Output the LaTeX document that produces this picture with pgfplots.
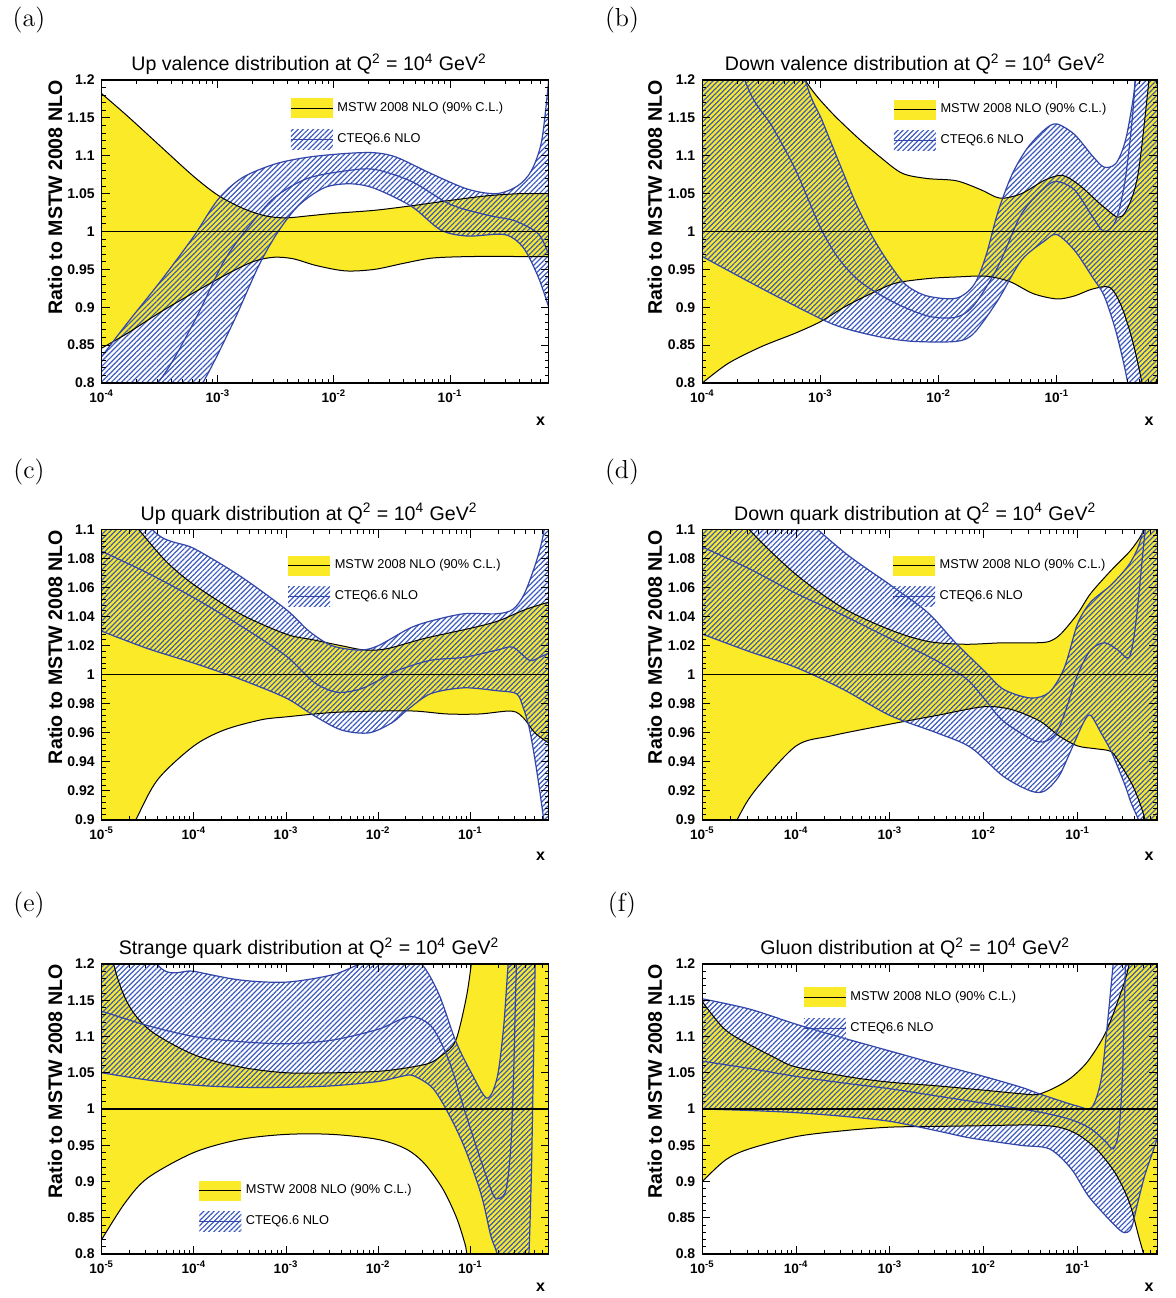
\documentclass[border=0pt]{standalone}
\usepackage{fontspec}
\newfontfamily\arial{Liberation Sans}
\usepackage{pgfplots}
\pgfplotsset{compat=1.18}
\usepgfplotslibrary{fillbetween}
\usetikzlibrary{patterns.meta}
\definecolor{myyellow}{RGB}{250,234,40}
\definecolor{cthatch}{RGB}{60,90,190}
\definecolor{ctline}{RGB}{50,70,170}
\pgfplotsset{
 panel/.style={
   scale only axis, axis on top,
   xmax=-0.15,
   axis line style={line width=0.6pt},
   every tick/.style={black, line width=0.5pt},
   major tick length=4pt, minor tick length=2pt,
   minor y tick num=4,
   yticklabel style={font=\arial\bfseries\fontsize{7}{8}\selectfont},
   xticklabel style={font=\arial\bfseries\fontsize{6.8}{8}\selectfont},
   title style={font=\arial\fontsize{9.8}{11}\selectfont, anchor=south, yshift=-4.5pt, inner sep=1pt},
   ylabel={Ratio to MSTW 2008 NLO},
   ylabel style={font=\arial\bfseries\fontsize{9.8}{11}\selectfont, at={(axis description cs:-0.104,1)}, anchor=east, inner sep=0pt},
   xlabel={x},
   xlabel style={font=\arial\bfseries\fontsize{8}{9}\selectfont, at={(axis description cs:0.982,-0.125)}, anchor=center},
   legend cell align=left,
   legend style={draw=none, fill=none, anchor=north west, font=\arial\fontsize{6.4}{7.5}\selectfont, row sep=5.5pt, inner sep=0pt},
 },
 leftcol/.style={width=223.5pt, title style={at={(axis description cs:0.464,1)}}},
 rightcol/.style={width=227.5pt, title style={at={(axis description cs:0.468,1)}}},
 xfour/.style={xmin=-4, xtick={-4,-3,-2,-1},
   xticklabels={10\textsuperscript{-4},10\textsuperscript{-3},10\textsuperscript{-2},10\textsuperscript{-1}},
   minor xtick={-3.699,-3.523,-3.398,-3.301,-3.222,-3.155,-3.097,-3.046,-2.699,-2.523,-2.398,-2.301,-2.222,-2.155,-2.097,-2.046,-1.699,-1.523,-1.398,-1.301,-1.222,-1.155,-1.097,-1.046,-0.699,-0.523,-0.398,-0.301,-0.222,-0.155}},
 xfive/.style={xmin=-5, xtick={-5,-4,-3,-2,-1},
   xticklabels={10\textsuperscript{-5},10\textsuperscript{-4},10\textsuperscript{-3},10\textsuperscript{-2},10\textsuperscript{-1}},
   minor xtick={-4.699,-4.523,-4.398,-4.301,-4.222,-4.155,-4.097,-4.046,-3.699,-3.523,-3.398,-3.301,-3.222,-3.155,-3.097,-3.046,-2.699,-2.523,-2.398,-2.301,-2.222,-2.155,-2.097,-2.046,-1.699,-1.523,-1.398,-1.301,-1.222,-1.155,-1.097,-1.046,-0.699,-0.523,-0.398,-0.301,-0.222,-0.155}},
 ywide/.style={ymin=0.8, ymax=1.2, ytick={0.8,0.85,0.9,0.95,1,1.05,1.1,1.15,1.2},
   yticklabels={0.8,0.85,0.9,0.95,1,1.05,1.1,1.15,1.2}},
 ynarrow/.style={ymin=0.9, ymax=1.1, ytick={0.9,0.92,0.94,0.96,0.98,1,1.02,1.04,1.06,1.08,1.1},
   yticklabels={0.9,0.92,0.94,0.96,0.98,1,1.02,1.04,1.06,1.08,1.1}},
 mstw/.style={black, line width=0.5pt, smooth, tension=0.5, forget plot},
 cteq/.style={ctline, line width=0.6pt, smooth, tension=0.5, forget plot},
 yfill/.style={fill=myyellow, draw=none, forget plot},
 hfill/.style={draw=none, pattern={Lines[angle=45,distance=1.8pt,line width=0.6pt]}, pattern color=cthatch, forget plot},
 one/.style={black, line width=0.6pt, forget plot},
 mstwleg/.style={legend image code/.code={
   \path[fill=myyellow, draw=none] (0pt,-5pt) rectangle (21pt,5pt);
   \path[draw=black,line width=0.6pt] (0pt,0pt) -- (21pt,0pt);}},
 cteqleg/.style={legend image code/.code={
   \path[draw=none, pattern={Lines[angle=45,distance=1.8pt,line width=0.6pt]},pattern color=cthatch] (0pt,-5pt) rectangle (21pt,5pt);
   \path[draw=ctline,line width=0.6pt] (0pt,0pt) -- (21pt,0pt);}},
}
\newcommand{\legs}{%
 \addlegendimage{mstwleg}\addlegendentry{MSTW 2008 NLO (90\% C.L.)}
 \addlegendimage{cteqleg}\addlegendentry{CTEQ6.6 NLO}}
\begin{document}
\begin{tikzpicture}
\path (0,0) rectangle (588pt,-649pt);
\node[font=\fontsize{13}{15}\selectfont] at (14.5pt,-10pt) {(a)};
\node[font=\fontsize{13}{15}\selectfont] at (311pt,-10pt) {(b)};
\node[font=\fontsize{13}{15}\selectfont] at (14.5pt,-236pt) {(c)};
\node[font=\fontsize{13}{15}\selectfont] at (311pt,-236pt) {(d)};
\node[font=\fontsize{13}{15}\selectfont] at (14.5pt,-452.5pt) {(e)};
\node[font=\fontsize{13}{15}\selectfont] at (311pt,-452.5pt) {(f)};

% ---------------- (a)
\begin{axis}[panel, leftcol, xfour, ywide, at={(50.85pt,-191.5pt)}, anchor=south west, height=151.5pt,
  title={Up valence distribution at Q\textsuperscript{2} = 10\textsuperscript{4} GeV\textsuperscript{2}},
  legend style={at={(axis description cs:0.421,0.941)}}]
\addplot[mstw, name path=mua] coordinates {(-4,1.182) (-3.775,1.152) (-3.49,1.112) (-3.21,1.073) (-3.0,1.048) (-2.79,1.031) (-2.6,1.021) (-2.42,1.018) (-2.2,1.021) (-2.0,1.024) (-1.65,1.028) (-1.33,1.034) (-1.0,1.041) (-0.69,1.047) (-0.4,1.05) (-0.15,1.05)};
\addplot[mstw, name path=mla] coordinates {(-4,0.846) (-3.775,0.866) (-3.49,0.894) (-3.21,0.919) (-2.93,0.943) (-2.7,0.96) (-2.52,0.966) (-2.35,0.964) (-2.15,0.955) (-1.9,0.948) (-1.65,0.95) (-1.4,0.958) (-1.15,0.965) (-0.8,0.967) (-0.4,0.967) (-0.15,0.967)};
\addplot[yfill] fill between[of=mua and mla];
\addplot[cteq, name path=cua] coordinates {(-4,0.835) (-3.775,0.88) (-3.49,0.935) (-3.21,0.993) (-3.0,1.042) (-2.79,1.071) (-2.51,1.089) (-2.23,1.098) (-1.9,1.103) (-1.65,1.104) (-1.46,1.098) (-1.17,1.077) (-0.85,1.056) (-0.6,1.05) (-0.42,1.06) (-0.3,1.08) (-0.21,1.12) (-0.15,1.2)};
\addplot[cteq, name path=cla] coordinates {(-4,0.6) (-3.5,0.71) (-3.13,0.8) (-2.87,0.879) (-2.65,0.954) (-2.48,1.0) (-2.3,1.035) (-2.08,1.058) (-1.86,1.063) (-1.65,1.057) (-1.33,1.033) (-1.08,1.002) (-0.85,0.994) (-0.53,0.996) (-0.37,0.979) (-0.24,0.94) (-0.15,0.9)};
\addplot[hfill] fill between[of=cua and cla];
\addplot[cteq] coordinates {(-4,0.74) (-3.52,0.8) (-3.21,0.879) (-2.95,0.96) (-2.73,1.007) (-2.51,1.045) (-2.23,1.07) (-1.9,1.08) (-1.65,1.082) (-1.33,1.066) (-1.0,1.036) (-0.69,1.022) (-0.44,1.014) (-0.24,0.997) (-0.15,0.97)};
\addplot[one] coordinates {(-5,1) (0,1)};
\legs
\end{axis}

% ---------------- (b)
\begin{axis}[panel, rightcol, xfour, ywide, at={(351.15pt,-191.5pt)}, anchor=south west, height=151.5pt,
  title={Down valence distribution at Q\textsuperscript{2} = 10\textsuperscript{4} GeV\textsuperscript{2}},
  legend style={at={(axis description cs:0.419,0.937)}}]
\addplot[mstw, name path=mub] coordinates {(-4,1.45) (-3.5,1.30) (-3.13,1.2) (-2.93,1.161) (-2.7,1.126) (-2.5,1.099) (-2.31,1.077) (-2.1,1.07) (-1.85,1.067) (-1.64,1.055) (-1.48,1.044) (-1.3,1.05) (-1.1,1.068) (-0.95,1.074) (-0.8,1.06) (-0.6,1.032) (-0.45,1.02) (-0.32,1.07) (-0.22,1.2) (-0.15,1.3)};
\addplot[mstw, name path=mlb] coordinates {(-4,0.80) (-3.78,0.826) (-3.5,0.848) (-3.21,0.866) (-3.0,0.881) (-2.79,0.901) (-2.56,0.919) (-2.36,0.932) (-2.08,0.938) (-1.85,0.94) (-1.6,0.941) (-1.4,0.934) (-1.2,0.918) (-1.0,0.911) (-0.85,0.915) (-0.7,0.924) (-0.55,0.926) (-0.45,0.9) (-0.35,0.85) (-0.25,0.78) (-0.15,0.72)};
\addplot[yfill] fill between[of=mub and mlb];
\addplot[cteq, name path=cub] coordinates {(-4,1.7) (-3.5,1.40) (-3.13,1.2) (-2.99,1.148) (-2.84,1.09) (-2.7,1.037) (-2.56,0.993) (-2.42,0.958) (-2.28,0.93) (-2.1,0.915) (-1.85,0.912) (-1.7,0.93) (-1.6,0.968) (-1.5,1.025) (-1.38,1.075) (-1.25,1.11) (-1.1,1.135) (-1.0,1.142) (-0.85,1.128) (-0.7,1.1) (-0.6,1.085) (-0.5,1.09) (-0.42,1.12) (-0.35,1.18) (-0.3,1.25) (-0.15,1.4)};
\addplot[cteq, name path=clb] coordinates {(-4,0.967) (-3.5,0.925) (-3.0,0.885) (-2.79,0.872) (-2.5,0.861) (-2.22,0.855) (-1.85,0.855) (-1.7,0.866) (-1.5,0.909) (-1.3,0.962) (-1.1,0.988) (-1.0,0.996) (-0.85,0.975) (-0.7,0.94) (-0.6,0.915) (-0.5,0.868) (-0.4,0.8) (-0.3,0.7) (-0.15,0.6)};
\addplot[hfill] fill between[of=cub and clb];
\addplot[cteq] coordinates {(-4,1.40) (-3.64,1.2) (-3.41,1.139) (-3.21,1.081) (-3.0,1.005) (-2.84,0.963) (-2.65,0.932) (-2.36,0.905) (-2.08,0.888) (-1.85,0.887) (-1.7,0.903) (-1.5,0.953) (-1.3,1.023) (-1.1,1.058) (-1.0,1.066) (-0.85,1.055) (-0.7,1.02) (-0.6,1.0) (-0.5,1.015) (-0.42,1.07) (-0.35,1.17) (-0.3,1.3) (-0.15,1.5)};
\addplot[one] coordinates {(-5,1) (0,1)};
\legs
\end{axis}

% ---------------- (c)
\begin{axis}[panel, leftcol, xfive, ynarrow, at={(50.85pt,-410pt)}, anchor=south west, height=145.25pt,
  title={Up quark distribution at Q\textsuperscript{2} = 10\textsuperscript{4} GeV\textsuperscript{2}},
  legend style={at={(axis description cs:0.415,0.912)}}]
\addplot[mstw, name path=muc] coordinates {(-5,1.13) (-4.6,1.1) (-4.3,1.078) (-4.0,1.062) (-3.5,1.042) (-3.0,1.028) (-2.7,1.024) (-2.4,1.02) (-2.14,1.017) (-1.9,1.018) (-1.5,1.025) (-1.0,1.032) (-0.7,1.037) (-0.4,1.045) (-0.15,1.05)};
\addplot[mstw, name path=mlc] coordinates {(-5,0.85) (-4.63,0.9) (-4.39,0.928) (-4.0,0.951) (-3.67,0.962) (-3.27,0.969) (-3.0,0.971) (-2.5,0.974) (-2.0,0.975) (-1.6,0.975) (-1.25,0.973) (-0.9,0.973) (-0.55,0.975) (-0.42,0.97) (-0.3,0.96) (-0.15,0.953)};
\addplot[yfill] fill between[of=muc and mlc];
\addplot[cteq, name path=cuc] coordinates {(-5,1.16) (-4.45,1.1) (-4.0,1.087) (-3.5,1.068) (-3.0,1.045) (-2.75,1.03) (-2.5,1.02) (-2.2,1.017) (-2.0,1.02) (-1.66,1.032) (-1.43,1.037) (-1.07,1.042) (-0.71,1.042) (-0.54,1.045) (-0.42,1.055) (-0.3,1.075) (-0.22,1.093) (-0.15,1.12)};
\addplot[cteq, name path=clc] coordinates {(-5,1.03) (-4.5,1.018) (-4.0,1.008) (-3.5,0.997) (-3.0,0.984) (-2.7,0.972) (-2.4,0.962) (-2.1,0.96) (-1.85,0.967) (-1.68,0.976) (-1.43,0.987) (-1.07,0.991) (-0.71,0.989) (-0.5,0.987) (-0.43,0.978) (-0.36,0.963) (-0.29,0.938) (-0.21,0.903) (-0.15,0.87)};
\addplot[hfill] fill between[of=cuc and clc];
\addplot[cteq] coordinates {(-5,1.085) (-4.5,1.07) (-4.0,1.053) (-3.5,1.034) (-3.0,1.013) (-2.7,0.995) (-2.45,0.988) (-2.2,0.99) (-2.0,0.996) (-1.79,1.003) (-1.43,1.01) (-1.07,1.012) (-0.71,1.017) (-0.54,1.019) (-0.36,1.01) (-0.25,1.012) (-0.15,1.015)};
\addplot[one] coordinates {(-5,1) (0,1)};
\legs
\end{axis}

% ---------------- (d)
\begin{axis}[panel, rightcol, xfive, ynarrow, at={(351.15pt,-410pt)}, anchor=south west, height=145.25pt,
  title={Down quark distribution at Q\textsuperscript{2} = 10\textsuperscript{4} GeV\textsuperscript{2}},
  legend style={at={(axis description cs:0.417,0.912)}}]
\addplot[mstw, name path=mud] coordinates {(-5,1.14) (-4.5,1.1) (-4.0,1.069) (-3.5,1.046) (-3.0,1.031) (-2.6,1.023) (-2.2,1.021) (-1.8,1.022) (-1.45,1.022) (-1.3,1.023) (-1.18,1.028) (-1.0,1.042) (-0.86,1.056) (-0.64,1.072) (-0.43,1.086) (-0.29,1.1) (-0.15,1.125)};
\addplot[mstw, name path=mld] coordinates {(-5,0.85) (-4.63,0.9) (-4.43,0.921) (-4.0,0.951) (-3.62,0.958) (-3.0,0.966) (-2.5,0.972) (-2.0,0.978) (-1.7,0.976) (-1.4,0.968) (-1.2,0.958) (-1.0,0.951) (-0.8,0.949) (-0.64,0.947) (-0.54,0.938) (-0.4,0.922) (-0.28,0.9) (-0.15,0.86)};
\addplot[yfill] fill between[of=mud and mld];
\addplot[cteq, name path=cud] coordinates {(-5,1.25) (-4.5,1.16) (-4.0,1.115) (-3.5,1.085) (-3.0,1.062) (-2.6,1.043) (-2.3,1.022) (-2.0,1.003) (-1.79,0.99) (-1.5,0.984) (-1.3,0.988) (-1.14,1.005) (-1.0,1.035) (-0.86,1.05) (-0.64,1.062) (-0.43,1.078) (-0.3,1.1) (-0.15,1.16)};
\addplot[cteq, name path=cld] coordinates {(-5,1.028) (-4.5,1.016) (-4.0,1.005) (-3.5,0.99) (-3.0,0.972) (-2.5,0.96) (-2.14,0.95) (-1.79,0.93) (-1.5,0.92) (-1.35,0.92) (-1.2,0.93) (-1.07,0.948) (-0.93,0.968) (-0.86,0.972) (-0.75,0.96) (-0.64,0.947) (-0.5,0.925) (-0.43,0.912) (-0.32,0.895) (-0.15,0.86)};
\addplot[hfill] fill between[of=cud and cld];
\addplot[cteq] coordinates {(-5,1.088) (-4.5,1.073) (-4.0,1.056) (-3.5,1.041) (-3.0,1.025) (-2.6,1.013) (-2.2,0.998) (-2.0,0.984) (-1.79,0.968) (-1.43,0.954) (-1.25,0.958) (-1.14,0.973) (-1.0,1.0) (-0.86,1.017) (-0.71,1.022) (-0.57,1.017) (-0.45,1.012) (-0.38,1.035) (-0.31,1.08) (-0.25,1.12) (-0.15,1.2)};
\addplot[one] coordinates {(-5,1) (0,1)};
\legs
\end{axis}

% ---------------- (e)
\begin{axis}[panel, leftcol, xfive, ywide, at={(50.85pt,-627pt)}, anchor=south west, height=145pt,
  xlabel style={at={(axis description cs:0.982,-0.114)}},
  title={Strange quark distribution at Q\textsuperscript{2} = 10\textsuperscript{4} GeV\textsuperscript{2}},
  legend style={at={(axis description cs:0.216,0.255)}}]
\addplot[mstw, name path=mue] coordinates {(-5,1.3) (-4.87,1.2) (-4.71,1.144) (-4.47,1.108) (-4.0,1.075) (-3.5,1.058) (-3.0,1.05) (-2.46,1.05) (-2.0,1.052) (-1.73,1.056) (-1.45,1.063) (-1.3,1.075) (-1.16,1.094) (-1.05,1.15) (-0.99,1.2) (-0.9,1.3) (-0.6,1.5) (-0.15,1.6)};
\addplot[mstw, name path=mle] coordinates {(-5,0.82) (-4.75,0.87) (-4.5,0.905) (-4.0,0.94) (-3.5,0.958) (-3.0,0.965) (-2.5,0.965) (-2.0,0.958) (-1.7,0.945) (-1.5,0.925) (-1.3,0.89) (-1.15,0.85) (-1.05,0.81) (-1.0,0.78) (-0.6,0.6) (-0.15,0.5)};
\addplot[yfill] fill between[of=mue and mle];
\addplot[cteq, name path=cue] coordinates {(-5,1.35) (-4.4,1.2) (-4.0,1.19) (-3.5,1.178) (-3.0,1.175) (-2.5,1.185) (-2.2,1.2) (-1.8,1.22) (-1.53,1.2) (-1.34,1.158) (-1.16,1.094) (-0.99,1.05) (-0.82,1.015) (-0.71,1.043) (-0.64,1.112) (-0.59,1.2) (-0.5,1.35) (-0.15,1.6)};
\addplot[cteq, name path=cle] coordinates {(-5,1.05) (-4.5,1.04) (-4.0,1.033) (-3.5,1.03) (-3.0,1.03) (-2.5,1.032) (-2.0,1.038) (-1.75,1.045) (-1.62,1.046) (-1.41,1.029) (-1.23,0.992) (-1.06,0.946) (-0.88,0.881) (-0.78,0.826) (-0.71,0.8) (-0.6,0.74) (-0.45,0.72) (-0.38,0.76) (-0.34,0.9) (-0.31,1.1) (-0.28,1.25) (-0.15,1.4)};
\addplot[hfill] fill between[of=cue and cle];
\addplot[cteq] coordinates {(-5,1.135) (-4.5,1.115) (-4.0,1.1) (-3.5,1.093) (-3.0,1.09) (-2.5,1.095) (-2.0,1.11) (-1.75,1.124) (-1.6,1.127) (-1.41,1.112) (-1.23,1.066) (-1.06,0.997) (-0.88,0.927) (-0.75,0.881) (-0.68,0.877) (-0.61,0.89) (-0.56,0.95) (-0.53,1.05) (-0.5,1.2) (-0.45,1.35) (-0.15,1.5)};
\addplot[one] coordinates {(-5,1) (0,1)};
\legs
\end{axis}

% ---------------- (f)
\begin{axis}[panel, rightcol, xfive, ywide, at={(351.15pt,-627pt)}, anchor=south west, height=145pt,
  xlabel style={at={(axis description cs:0.982,-0.114)}},
  title={Gluon distribution at Q\textsuperscript{2} = 10\textsuperscript{4} GeV\textsuperscript{2}},
  legend style={at={(axis description cs:0.221,0.921)}}]
\addplot[mstw, name path=muf] coordinates {(-5,1.148) (-4.8,1.115) (-4.64,1.099) (-4.23,1.071) (-4.0,1.058) (-3.42,1.044) (-3.0,1.037) (-2.5,1.032) (-2.0,1.026) (-1.6,1.021) (-1.43,1.02) (-1.25,1.029) (-1.07,1.043) (-0.89,1.066) (-0.71,1.103) (-0.57,1.149) (-0.45,1.2) (-0.35,1.3) (-0.15,1.5)};
\addplot[mstw, name path=mlf] coordinates {(-5,0.9) (-4.75,0.93) (-4.5,0.945) (-4.0,0.962) (-3.5,0.97) (-3.0,0.975) (-2.5,0.976) (-2.0,0.977) (-1.5,0.978) (-1.2,0.975) (-1.0,0.965) (-0.8,0.945) (-0.6,0.912) (-0.45,0.872) (-0.35,0.825) (-0.28,0.79) (-0.15,0.7)};
\addplot[yfill] fill between[of=muf and mlf];
\addplot[cteq, name path=cuf] coordinates {(-5,1.152) (-4.5,1.138) (-4.0,1.117) (-3.5,1.098) (-3.0,1.08) (-2.5,1.062) (-2.0,1.045) (-1.6,1.03) (-1.43,1.022) (-1.2,1.012) (-1.0,1.004) (-0.85,1.002) (-0.75,1.04) (-0.68,1.12) (-0.62,1.2) (-0.5,1.35) (-0.15,1.5)};
\addplot[cteq, name path=clf] coordinates {(-5,1.0) (-4.5,0.998) (-4.0,0.995) (-3.5,0.99) (-3.0,0.983) (-2.5,0.97) (-2.14,0.96) (-1.61,0.95) (-1.3,0.945) (-1.07,0.918) (-0.89,0.881) (-0.71,0.854) (-0.54,0.832) (-0.47,0.83) (-0.42,0.838) (-0.36,0.87) (-0.28,0.91) (-0.2,0.94) (-0.15,0.96)};
\addplot[hfill] fill between[of=cuf and clf];
\addplot[cteq] coordinates {(-5,1.066) (-4.5,1.056) (-4.0,1.045) (-3.5,1.036) (-3.0,1.028) (-2.5,1.018) (-2.0,1.008) (-1.5,0.998) (-1.2,0.99) (-1.0,0.982) (-0.85,0.972) (-0.7,0.955) (-0.62,0.945) (-0.56,0.97) (-0.52,1.05) (-0.49,1.2) (-0.45,1.4) (-0.15,1.6)};
\addplot[one] coordinates {(-5,1) (0,1)};
\legs
\end{axis}
\end{tikzpicture}
\end{document}
